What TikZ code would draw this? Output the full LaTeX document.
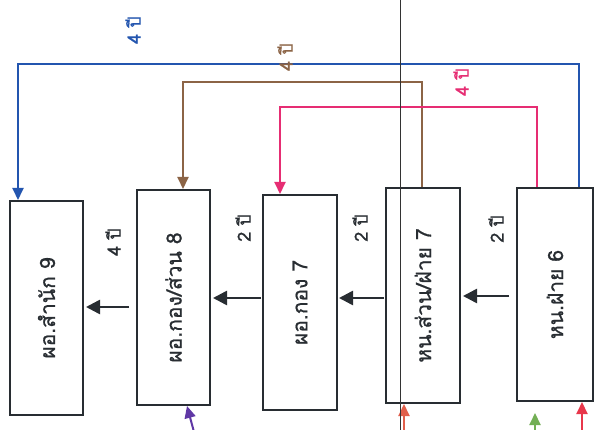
\documentclass[tikz,border=0pt]{standalone}
\usepackage{fontspec}
\newfontfamily\thai[Script=Thai, FakeBold=0.8]{Loma}
\usetikzlibrary{arrows.meta}
\definecolor{cBlue}{RGB}{35,85,175}
\definecolor{cBrown}{RGB}{140,100,70}
\definecolor{cPink}{RGB}{230,45,115}
\definecolor{cPurple}{RGB}{95,55,165}
\definecolor{cOrange}{RGB}{225,95,75}
\definecolor{cGreen}{RGB}{115,175,85}
\definecolor{cRed}{RGB}{232,55,75}
\definecolor{cInk}{RGB}{40,45,50}
\tikzset{
  box/.style={draw=cInk, line width=2pt, fill=white, inner sep=0pt},
  blk/.style={draw=cInk, line width=2.6pt, -{Triangle[length=14pt,width=14pt]}},
  link/.style={line width=2pt, -{Triangle[length=12pt,width=11pt]}},
  lab/.style={font=\thai\fontsize{18}{20}\selectfont, rotate=90, inner sep=1pt},
  boxtxt/.style={font=\thai\fontsize{21}{24}\selectfont, rotate=90, inner sep=1pt, text=cInk}
}
\begin{document}
\begin{tikzpicture}[x=1pt,y=-1pt]
\useasboundingbox (0,0) rectangle (594,430);
\fill[white] (0,0) rectangle (594,430);
% boxes
\node[box, minimum width=73pt, minimum height=214pt] (B1) at (46.5,308) {};
\node[box, minimum width=73pt, minimum height=215pt] (B2) at (173.5,297.5) {};
\node[box, minimum width=74pt, minimum height=215pt] (B3) at (300,302.5) {};
\node[box, minimum width=74pt, minimum height=215pt] (B4) at (423,295.5) {};
\node[box, minimum width=76pt, minimum height=213pt] (B5) at (555,294.5) {};
\node[boxtxt] (X1) at (B1.center) {ผอ.สำนัก 9};
\node[boxtxt] (X2) at (B2.center) {ผอ.กอง/ส่วน 8};
\node[boxtxt] (X3) at (B3.center) {ผอ.กอง 7};
\node[boxtxt] (X4) at (B4.center) {หน.ส่วน/ฝ่าย 7};
\node[boxtxt] (X5) at (B5.center) {หน.ฝ่าย 6};
% horizontal arrows
\coordinate (h1) at (0,307);
\coordinate (h2) at (0,298);
\coordinate (h3) at (0,298);
\coordinate (h4) at (0,296);
\draw[blk, shorten <=7pt, shorten >=2pt] (B2.west |- h1) -- (B1.east |- h1);
\draw[blk, shorten <=1pt, shorten >=2pt] (B3.west |- h2) -- (B2.east |- h2);
\draw[blk, shorten <=1pt, shorten >=1pt] (B4.west |- h3) -- (B3.east |- h3);
\draw[blk, shorten <=7pt, shorten >=2pt] (B5.west |- h4) -- (B4.east |- h4);
% labels between boxes
\node[lab, text=cInk] (L1) at (113,242) {4 ปี};
\node[lab, text=cInk] (L2) at (243,228) {2 ปี};
\node[lab, text=cInk] (L3) at (360,228) {2 ปี};
\node[lab, text=cInk] (L4) at (496,229) {2 ปี};
% top connectors
\coordinate (bR) at (579,64);
\coordinate (bL) at (18,64);
\coordinate (brR) at (422,82);
\coordinate (brL) at (183,82);
\coordinate (pR) at (537,107);
\coordinate (pL) at (280,107);
\draw[link, cBlue] (B5.north -| bR) -- (bR) -- (bL) -- (B1.north -| bL);
\draw[link, cBrown] (B4.north -| brR) -- (brR) -- (brL) -- (B2.north -| brL);
\draw[link, cPink] (B5.north -| pR) -- (pR) -- (pL) -- (B3.north -| pL);
\node[lab, text=cBlue] (T1) at (133,30) {4 ปี};
\node[lab, text=cBrown] (T2) at (285,57) {4 ปี};
\node[lab, text=cPink] (T3) at (461,82) {4 ปี};
% bottom arrows
\coordinate (pu0) at (194,432);
\coordinate (pu1) at (187,406);
\coordinate (or0) at (404,432);
\coordinate (gr0) at (535,432);
\coordinate (rd0) at (582,432);
\draw[link, cPurple] (pu0) -- (B2.south -| pu1);
\draw[link, cOrange] (or0) -- (B4.south -| or0);
\draw[link, cGreen, shorten >=11pt] (gr0) -- (B5.south -| gr0);
\draw[link, cRed] (rd0) -- (B5.south -| rd0);
% thin scan line
\coordinate (v0) at (400,0);
\coordinate (v1) at (400,430);
\draw[line width=0.9pt, black!80] (v0) -- (v1);
\end{tikzpicture}
\end{document}
